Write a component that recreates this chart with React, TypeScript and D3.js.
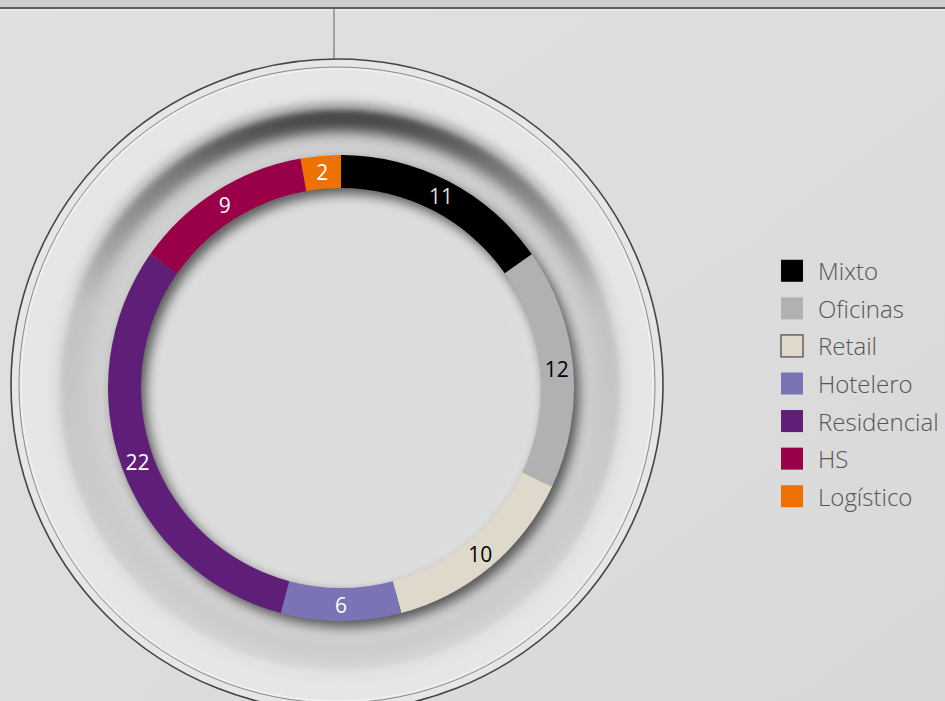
import React from "react";
import * as d3 from "d3";

const categories = ["Mixto", "Oficinas", "Retail", "Hotelero", "Residencial", "HS", "Logístico"];
const values = [11, 12, 10, 6, 22, 9, 2];
const colors = ["#000000", "#b0b1b3", "#ded9cb", "#7a73b6", "#5f1f78", "#9a0048", "#ee7203"];
const labelColors = ["#dddddd", "#000000", "#000000", "#ffffff", "#ffffff", "#ffffff", "#ffffff"];

const W = 945;
const H = 701;
const cx = 341;
const cy = 388;
const rOuter = 233;
const rInner = 200;

export default function App() {
  const pie = d3.pie<number>().sort(null).value((d) => d)(values);
  const arc = d3.arc<d3.PieArcDatum<number>>().innerRadius(rInner).outerRadius(rOuter);
  const ringPath = d3.arc()({ innerRadius: rInner, outerRadius: rOuter, startAngle: 0, endAngle: 2 * Math.PI } as any) as string;
  const legendY = d3.scaleBand<string>().domain(categories).range([252, 515]);

  return (
    <div style={{ position: "fixed", left: 0, top: 0, width: W, height: H, overflow: "hidden" }}>
      <svg width={W} height={H} style={{ display: "block" }}>
        <defs>
          <linearGradient id="bg" x1="0" y1="0" x2="1" y2="1">
            <stop offset="0" stopColor="#e0e0e0" />
            <stop offset="0.5" stopColor="#dddddd" />
            <stop offset="1" stopColor="#d8d8d8" />
          </linearGradient>
          <linearGradient id="recess" x1="0" y1="0" x2="0" y2="1">
            <stop offset="0" stopColor="#3c3c3c" />
            <stop offset="0.12" stopColor="#7a7a7a" />
            <stop offset="0.35" stopColor="#c2c2c2" />
            <stop offset="1" stopColor="#d4d4d4" />
          </linearGradient>
          <radialGradient id="inner" cx="0.5" cy="0.5" r="0.5">
            <stop offset="0.8" stopColor="#dddddd" />
            <stop offset="1" stopColor="#c8c8c8" />
          </radialGradient>
          <filter id="blur6">
            <feGaussianBlur stdDeviation="6" />
          </filter>
          <filter id="blur3">
            <feGaussianBlur stdDeviation="3" />
          </filter>
        </defs>
        <rect width={W} height={H} fill="url(#bg)" />
        {/* top groove lines */}
        <rect x={0} y={0} width={W} height={8} fill="#cfcfcf" />
        <line x1={0} y1={8} x2={W} y2={8} stroke="#5e5e5e" strokeWidth={2} />
        <line x1={0} y1={10} x2={W} y2={10} stroke="#f2f2f2" strokeWidth={1} />
        <line x1={334} y1={9} x2={334} y2={61} stroke="#777" strokeWidth={1.2} />
        {/* outer raised rim */}
        <circle cx={337} cy={385} r={326} fill="#e6e6e6" stroke="#444" strokeWidth={1.6} />
        <circle cx={337} cy={385} r={318} fill="none" stroke="#8a8a8a" strokeWidth={1} />
        <circle cx={337} cy={385} r={316} fill="none" stroke="#f6f6f6" strokeWidth={1} />
        {/* recessed bowl */}
        <circle cx={340} cy={390} r={284} fill="url(#recess)" filter="url(#blur6)" />
        <circle cx={340} cy={390} r={284} fill="none" stroke="#efefef" strokeWidth={2} filter="url(#blur3)" />
        {/* inner floor */}
        <circle cx={341} cy={394} r={262} fill="url(#inner)" filter="url(#blur6)" />
        <circle cx={341} cy={392} r={185} fill="#dbdbdb" filter="url(#blur6)" />
        {/* ring shadow */}
        <path d={ringPath} transform={`translate(${cx + 5},${cy + 6})`} fill="#000" opacity={0.6} filter="url(#blur6)" />
        <g transform={`translate(${cx},${cy})`}>
          {pie.map((p, i) => (
            <path key={categories[i]} d={arc(p) as string} fill={colors[i]} />
          ))}
          {pie.map((p, i) => {
            const [x, y] = arc.centroid(p);
            return (
              <text
                key={"l" + i}
                x={x}
                y={y}
                textAnchor="middle"
                dominantBaseline="central"
                fontFamily="'Open Sans', sans-serif"
                fontSize={21}
                fill={labelColors[i]}
              >
                {values[i]}
              </text>
            );
          })}
        </g>
        {/* legend */}
        <g>
          {categories.map((c, i) => {
            const y = (legendY(c) as number) + legendY.bandwidth() / 2;
            return (
              <g key={c}>
                <rect
                  x={781}
                  y={y - 11}
                  width={22}
                  height={22}
                  fill={colors[i]}
                  stroke={c === "Retail" ? "#444" : "none"}
                  strokeWidth={c === "Retail" ? 1.2 : 0}
                />
                <text
                  x={818}
                  y={y}
                  dominantBaseline="central"
                  fontFamily="'Open Sans', sans-serif"
                  fontWeight={300}
                  fontSize={24}
                  fill="#555"
                >
                  {c}
                </text>
              </g>
            );
          })}
        </g>
      </svg>
    </div>
  );
}
